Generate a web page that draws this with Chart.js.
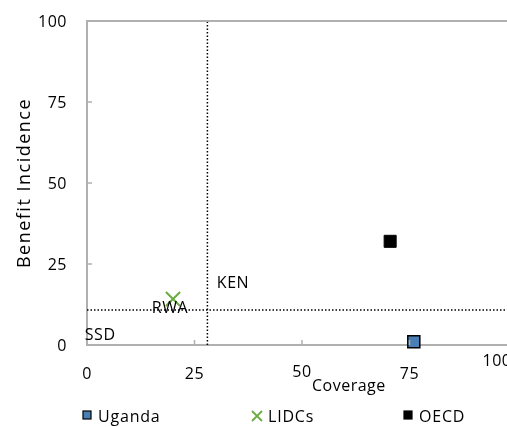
<!DOCTYPE html>
<html>
<head>
<meta charset="utf-8">
<script src="https://cdn.jsdelivr.net/npm/chart.js@4"></script>
<style>
  body { margin: 0; background: #fff; }
  #wrap { width: 507px; height: 427px; overflow: hidden; }
</style>
</head>
<body>
<div id="wrap"><canvas id="c" width="540" height="427"></canvas></div>
<script>
// series (coverage, benefit incidence)
const seriesNames = ['Uganda', 'LIDCs', 'OECD'];
const coverage = [76, 20, 70.5];
const incidence = [1, 14.2, 32];

// reference lines
const refCoverage = 28;
const refIncidence = 10.8;

// country annotations
const countryNames = ['KEN', 'RWA', 'SSD'];
const countryX = [30.2, 19.3, -0.5];
const countryY = [19, 11.2, 3.1];
const countryAlign = ['left', 'center', 'left'];

const tickValues = [0, 25, 50, 75, 100];

const FONT = '"Open Sans", "DejaVu Sans", sans-serif';
const AXIS = '#b0b0b0';

const seriesStyle = [
  { pointStyle: 'rect', pointRadius: 8.5, backgroundColor: '#4a7fb5', borderColor: '#000', borderWidth: 1.5 },
  { pointStyle: 'crossRot', pointRadius: 10, backgroundColor: '#6aac3f', borderColor: '#6aac3f', borderWidth: 2 },
  { pointStyle: 'rect', pointRadius: 8.5, backgroundColor: '#000', borderColor: '#000', borderWidth: 1 },
];

const datasets = [
  {
    label: 'refV',
    data: [{ x: refCoverage, y: 0 }, { x: refCoverage, y: 100 }],
    showLine: true, pointRadius: 0, borderColor: '#000', borderWidth: 1.5, borderDash: [1.5, 2], clip: false,
  },
  {
    label: 'refH',
    data: [{ x: 0, y: refIncidence }, { x: 100, y: refIncidence }],
    showLine: true, pointRadius: 0, borderColor: '#000', borderWidth: 1.5, borderDash: [1.5, 2], clip: false,
  },
];
seriesNames.forEach((name, i) => {
  datasets.push(Object.assign({ label: name, data: [{ x: coverage[i], y: incidence[i] }], clip: false }, seriesStyle[i]));
});

// draws the frame, tick marks, labels and the legend
const decor = {
  id: 'decor',
  afterDraw(chart) {
    const ctx = chart.ctx;
    const xs = chart.scales.x, ys = chart.scales.y;
    const a = chart.chartArea;
    ctx.save();

    // top border
    ctx.strokeStyle = AXIS;
    ctx.lineWidth = 2;
    ctx.beginPath();
    ctx.moveTo(a.left - 1, a.top);
    ctx.lineTo(a.right, a.top);
    ctx.stroke();

    // inward tick marks
    ctx.lineWidth = 1.5;
    tickValues.slice(1, 4).forEach(v => {
      const px = xs.getPixelForValue(v);
      ctx.beginPath(); ctx.moveTo(px, a.bottom); ctx.lineTo(px, a.bottom - 5); ctx.stroke();
      const py = ys.getPixelForValue(v);
      ctx.beginPath(); ctx.moveTo(a.left, py); ctx.lineTo(a.left + 5, py); ctx.stroke();
    });

    ctx.fillStyle = '#000';
    ctx.font = '16px ' + FONT;
    ctx.letterSpacing = '0.5px';

    // y tick labels
    ctx.textAlign = 'right';
    ctx.textBaseline = 'middle';
    tickValues.forEach(v => ctx.fillText(String(v), a.left - 20, ys.getPixelForValue(v) + 1));

    // x tick labels (last one sits higher and to the left, as in the source)
    ctx.textAlign = 'center';
    tickValues.forEach((v, i) => {
      let dx = 0, dy = 0;
      if (i === 2) dy = -2;
      if (i === tickValues.length - 1) { dx = -20; dy = -13; }
      ctx.fillText(String(v), xs.getPixelForValue(v) + dx, a.bottom + 29 + dy);
    });

    // country labels
    ctx.textBaseline = 'middle';
    countryNames.forEach((n, i) => {
      ctx.textAlign = countryAlign[i];
      ctx.fillText(n, xs.getPixelForValue(countryX[i]), ys.getPixelForValue(countryY[i]));
    });

    // axis titles
    ctx.textAlign = 'left';
    ctx.fillText('Coverage', 312, 386);

    ctx.save();
    ctx.font = '18px ' + FONT;
    ctx.letterSpacing = '1.5px';
    ctx.textAlign = 'center';
    ctx.translate(25, (a.top + a.bottom) / 2);
    ctx.rotate(-Math.PI / 2);
    ctx.fillText('Benefit Incidence', 0, 0);
    ctx.restore();

    // legend
    const legX = [87, 257, 408];
    const legY = 415;
    ctx.font = '16px ' + FONT;
    ctx.letterSpacing = '0.8px';
    ctx.textAlign = 'left';
    seriesNames.forEach((name, i) => {
      const st = seriesStyle[i];
      ctx.save();
      if (st.pointStyle === 'rect') {
        ctx.fillStyle = st.backgroundColor;
        ctx.fillRect(legX[i] - 4, legY - 4, 8, 8);
        ctx.strokeStyle = '#000';
        ctx.lineWidth = 1.2;
        ctx.strokeRect(legX[i] - 4, legY - 4, 8, 8);
      } else {
        ctx.strokeStyle = st.borderColor;
        ctx.lineWidth = 1.8;
        ctx.beginPath();
        ctx.moveTo(legX[i] - 5, legY - 4); ctx.lineTo(legX[i] + 5, legY + 6);
        ctx.moveTo(legX[i] + 5, legY - 4); ctx.lineTo(legX[i] - 5, legY + 6);
        ctx.stroke();
      }
      ctx.restore();
      ctx.fillText(name, legX[i] + 11, legY + 2);
    });

    ctx.restore();
  }
};

new Chart(document.getElementById('c'), {
  type: 'scatter',
  data: { datasets },
  plugins: [decor],
  options: {
    responsive: false,
    animation: false,
    layout: { padding: { left: 79, right: 23, top: 21, bottom: 74 } },
    plugins: { legend: { display: false }, tooltip: { enabled: false } },
    scales: {
      x: {
        type: 'linear', min: 0, max: 100,
        ticks: { display: false, stepSize: 25 },
        grid: { display: false },
        border: { display: true, color: AXIS, width: 2 },
      },
      y: {
        type: 'linear', min: 0, max: 100,
        ticks: { display: false, stepSize: 25 },
        grid: { display: false },
        border: { display: true, color: AXIS, width: 2 },
      },
    },
  },
});
</script>
</body>
</html>
